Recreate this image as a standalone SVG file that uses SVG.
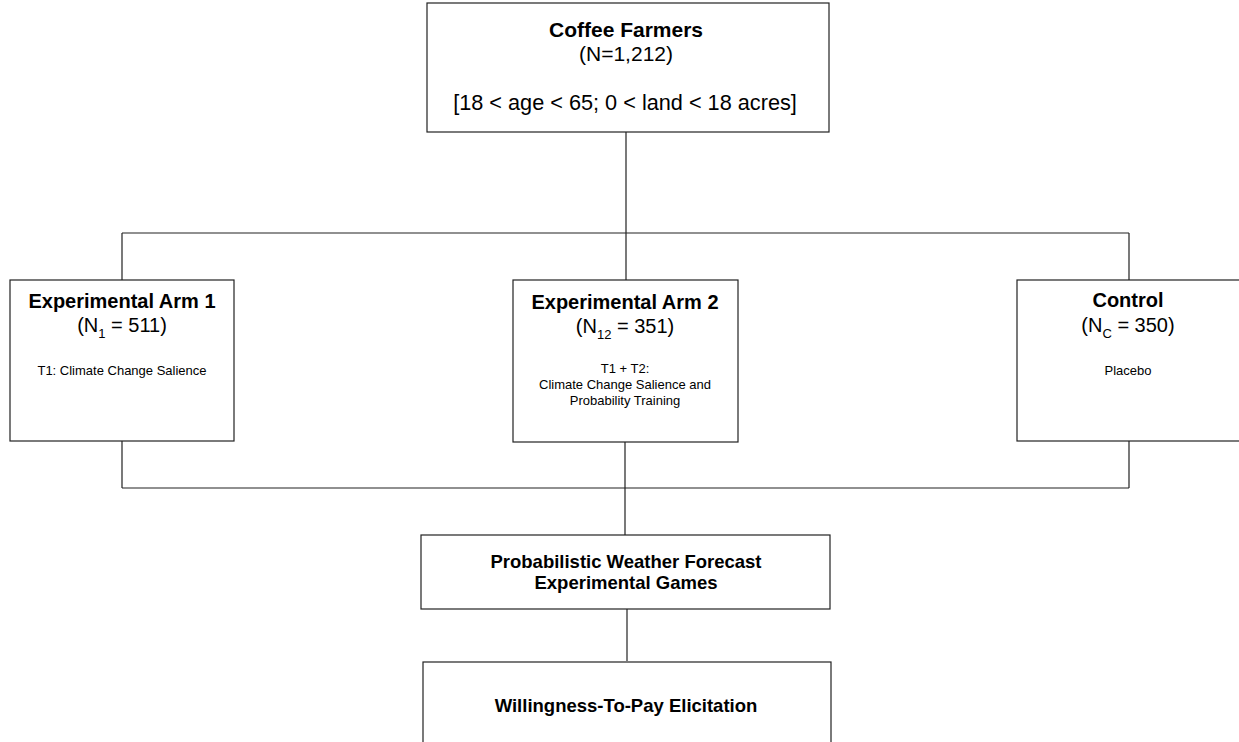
<svg xmlns="http://www.w3.org/2000/svg" width="1239" height="742" viewBox="0 0 1239 742">
<style>
.box{fill:#fff;stroke:#222;stroke-width:1.2}
.ln{fill:none;stroke:#222;stroke-width:1.2}
text{font-family:"Liberation Sans",Arial,sans-serif;fill:#000;text-anchor:middle}
.t{font-weight:bold;font-size:20px}
.n{font-size:20px}
.d{font-size:13px}
.big{font-size:21px}
.crit{font-size:21.7px}
.p{font-weight:bold;font-size:18.5px}
.sub{font-size:13px}
</style>
<rect width="1239" height="742" fill="#fff"/>
<g id="connectors">
<path class="ln" d="M626 132V233M122 233H1129M122 233V280M626 233V280M1129 233V280"/>
<path class="ln" d="M122 441V488M625 442V488M1129 441V488M122 488H1129M625 488V535"/>
<path class="ln" d="M627 609V661"/>
</g>
<g id="coffee">
<rect class="box" x="427" y="3" width="402" height="129"/>
<text class="big" x="626" y="37" font-weight="bold">Coffee Farmers</text>
<text class="big" x="626" y="61">(N=1,212)</text>
<text class="crit" x="625" y="110">[18 &lt; age &lt; 65; 0 &lt; land &lt; 18 acres]</text>
</g>
<g id="arm1">
<rect class="box" x="10" y="280" width="224" height="161"/>
<text class="t" x="122" y="308">Experimental Arm 1</text>
<text class="n" x="122" y="332">(N<tspan class="sub" dy="6">1</tspan><tspan dy="-6"> = 511)</tspan></text>
<text class="d" x="122" y="375">T1: Climate Change Salience</text>
</g>
<g id="arm2">
<rect class="box" x="513" y="280" width="225" height="162"/>
<text class="t" x="625" y="309">Experimental Arm 2</text>
<text class="n" x="625" y="333">(N<tspan class="sub" dy="6">12</tspan><tspan dy="-6"> = 351)</tspan></text>
<text class="d" x="625" y="373">T1 + T2:</text>
<text class="d" x="625" y="389">Climate Change Salience and</text>
<text class="d" x="625" y="405">Probability Training</text>
</g>
<g id="control">
<rect class="box" x="1017" y="280" width="230" height="161"/>
<text class="t" x="1128" y="307">Control</text>
<text class="n" x="1128" y="332">(N<tspan class="sub" dy="6">C</tspan><tspan dy="-6"> = 350)</tspan></text>
<text class="d" x="1128" y="375">Placebo</text>
</g>
<g id="games">
<rect class="box" x="421" y="535" width="409" height="74"/>
<text class="p" x="626" y="568">Probabilistic Weather Forecast</text>
<text class="p" x="626" y="589">Experimental Games</text>
</g>
<g id="wtp">
<rect class="box" x="423" y="662" width="408" height="100"/>
<text class="p" x="626" y="712">Willingness-To-Pay Elicitation</text>
</g>
</svg>
